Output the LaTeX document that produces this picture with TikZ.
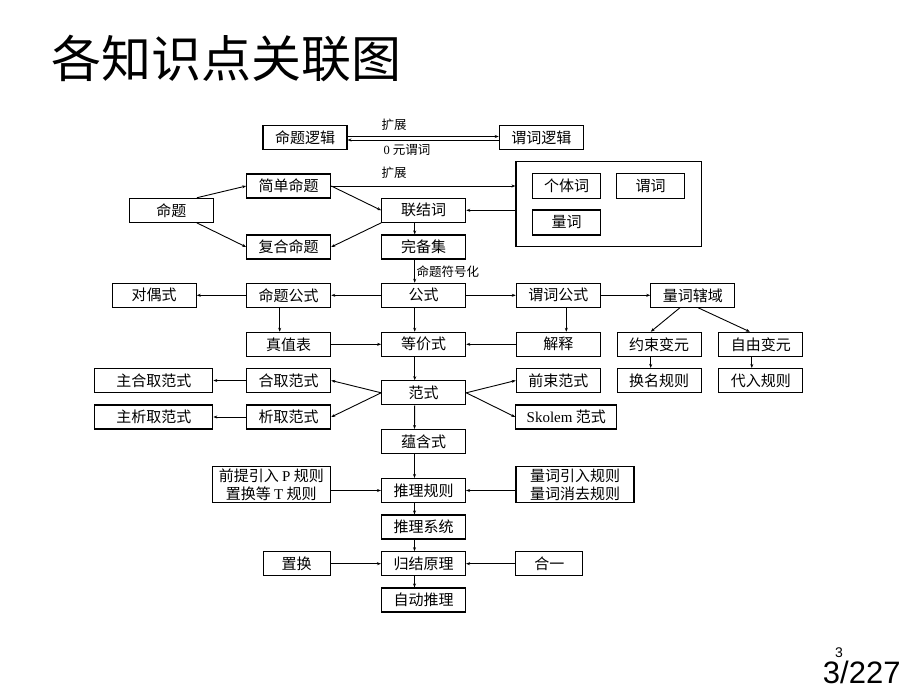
\documentclass[tikz,border=0pt]{standalone}
\usepackage{fontspec}
\setmainfont{Liberation Serif}
\newfontfamily\cjk{Noto Sans CJK SC}
\newfontfamily\pagefont{Liberation Sans}
\usetikzlibrary{arrows.meta}

\tikzset{
  box/.style={draw, line width=1.1pt, minimum width=84pt, minimum height=24pt,
    inner sep=0pt, font=\cjk\fontsize{15}{18}\selectfont},
  wide/.style={box, minimum width=118pt},
  arr/.style={line width=0.9pt, -{Stealth[length=4pt,width=3pt]}},
  lbl/.style={inner sep=0pt, font=\cjk\fontsize{12.5}{14}\selectfont},
}

\begin{document}
\begin{tikzpicture}[x=1pt,y=-1pt]
    \fill[white] (0,0) rectangle (920,690);
    \useasboundingbox (0,0) rectangle (920,690);
    \node[anchor=base west, inner sep=0pt, font=\cjk\fontsize{50}{60}\selectfont] (title) at (51.5,78) {各知识点关联图};

    \node[box] (mtlj) at (305,137.5) {命题逻辑};
    \node[box] (wclj) at (541.3,137.5) {谓词逻辑};
    \draw[arr] ([yshift=1pt]mtlj.east) -- ([yshift=1pt]wclj.west);
    \draw[arr] ([yshift=-2.5pt]wclj.west) -- ([yshift=-2.5pt]mtlj.east);
    \node[lbl] (kz1) at (394,125) {扩展};
    \node[lbl] (ly) at (407,150) {{\rmfamily 0} 元谓词};

    \node[box] (mt) at (171.3,210.3) {命题};
    \node[box] (jdmt) at (288.7,186) {简单命题};
    \node[box] (fhmt) at (288.7,247) {复合命题};
    \node[box] (ljc) at (423.7,210.3) {联结词};
    \node[box] (wbj) at (423.7,247) {完备集};
    \node[draw, line width=1.1pt, minimum width=185.7pt, minimum height=85pt] (big) at (608.8,204.2) {};
    \node[box, minimum width=68pt, minimum height=25pt] (gtc) at (566.7,185.8) {个体词};
    \node[box, minimum width=68pt, minimum height=25pt] (wc) at (650.7,185.8) {谓词};
    \node[box, minimum width=68pt, minimum height=25pt] (lc) at (566.7,222.5) {量词};
    \node[lbl] (kz2) at (394,173) {扩展};
    \draw[arr] ([xshift=-17pt]mt.north east) -- (jdmt.west);
    \draw[arr] ([xshift=-17pt]mt.south east) -- (fhmt.west);
    \draw[arr] (jdmt.east) -- (ljc.west);
    \draw[arr] (ljc.south west) -- (fhmt.east);
    \draw[arr] (jdmt.east) -- (jdmt.east -| big.west);
    \draw[arr] (ljc.east -| big.west) -- (ljc.east);
    \draw[arr] ([xshift=-9pt]ljc.south) -- ([xshift=-9pt]wbj.north);

    \node[box] (dos) at (154.2,295.3) {对偶式};
    \node[box] (mtgs) at (288.7,295.3) {命题公式};
    \node[box] (gs) at (423.7,295.3) {公式};
    \node[box] (wcgs) at (558.3,295.3) {谓词公式};
    \node[box] (lcxy) at (692.8,295.3) {量词辖域};
    \draw[arr] ([xshift=-9pt]wbj.south) -- ([xshift=-9pt]gs.north);
    \node[lbl, anchor=west] (fhh) at (416.5,272) {命题符号化};
    \draw[arr] (gs.west) -- (mtgs.east);
    \draw[arr] (mtgs.west) -- (dos.east);
    \draw[arr] (gs.east) -- (wcgs.west);
    \draw[arr] (wcgs.east) -- (lcxy.west);

    \node[box] (zzb) at (288.7,344.3) {真值表};
    \node[box] (djs) at (423.7,344.3) {等价式};
    \node[box] (js) at (558.3,344.3) {解释};
    \node[box] (ysby) at (659.2,344.3) {约束变元};
    \node[box] (zyby) at (760.8,344.3) {自由变元};
    \draw[arr] ([xshift=-9pt]mtgs.south) -- ([xshift=-9pt]zzb.north);
    \draw[arr] ([xshift=-9pt]gs.south) -- ([xshift=-9pt]djs.north);
    \draw[arr] ([xshift=8pt]wcgs.south) -- ([xshift=8pt]js.north);
    \draw[arr] ([xshift=-13pt]lcxy.south) -- ([xshift=-8.5pt]ysby.north);
    \draw[arr] ([xshift=5.5pt]lcxy.south) -- ([xshift=-11pt]zyby.north);
    \draw[arr] (zzb.east) -- (djs.west);
    \draw[arr] (js.west) -- (djs.east);

    \node[wide] (zhqfs) at (153.8,380.5) {主合取范式};
    \node[box] (hqfs) at (288.7,380.5) {合取范式};
    \node[box] (fs) at (423.7,392.8) {范式};
    \node[box] (qsfs) at (558.3,380.5) {前束范式};
    \node[box] (hmgz) at (659.2,380.5) {换名规则};
    \node[box] (drgz) at (760.8,380.5) {代入规则};
    \node[wide] (zxqfs) at (153.8,417) {主析取范式};
    \node[box] (xqfs) at (288.7,417) {析取范式};
    \node[box, minimum width=101pt] (skfs) at (566.3,417) {{\rmfamily Skolem} 范式};
    \draw[arr] ([xshift=-8.5pt]ysby.south) -- ([xshift=-8.5pt]hmgz.north);
    \draw[arr] ([xshift=-9pt]zyby.south) -- ([xshift=-9pt]drgz.north);
    \draw[arr] ([xshift=-9pt]djs.south) -- ([xshift=-9pt]fs.north);
    \draw[arr] (fs.west) -- (hqfs.east);
    \draw[arr] (fs.west) -- (xqfs.east);
    \draw[arr] (fs.east) -- (qsfs.west);
    \draw[arr] (fs.east) -- (skfs.west);
    \draw[arr] (hqfs.west) -- (zhqfs.east);
    \draw[arr] (xqfs.west) -- (zxqfs.east);

    \node[box] (yhs) at (423.5,441.5) {蕴含式};
    \node[wide, minimum height=36pt, align=center] (qtgz) at (271.3,484.7) {前提引入 {\rmfamily P} 规则\\置换等 {\rmfamily T} 规则};
    \node[box] (tlgz) at (423.5,490.5) {推理规则};
    \node[wide, minimum height=36pt, align=center] (lcgz) at (575,484.7) {量词引入规则\\量词消去规则};
    \node[box] (tlxt) at (423.5,527) {推理系统};
    \node[box, minimum width=67pt] (zh) at (296.7,563.7) {置换};
    \node[box] (gjyl) at (423.5,563.7) {归结原理};
    \node[box, minimum width=67pt] (hy) at (549.3,563.7) {合一};
    \node[box] (zdtl) at (423.5,600) {自动推理};
    \draw[arr] ([xshift=-9pt]fs.south) -- ([xshift=-9pt]yhs.north);
    \draw[arr] ([xshift=-9pt]yhs.south) -- ([xshift=-9pt]tlgz.north);
    \draw[arr] (tlgz.west -| qtgz.east) -- (tlgz.west);
    \draw[arr] (tlgz.east -| lcgz.west) -- (tlgz.east);
    \draw[arr] ([xshift=-9pt]tlgz.south) -- ([xshift=-9pt]tlxt.north);
    \draw[arr] ([xshift=-9pt]tlxt.south) -- ([xshift=-9pt]gjyl.north);
    \draw[arr] (zh.east) -- (gjyl.west);
    \draw[arr] (hy.west) -- (gjyl.east);
    \draw[arr] ([xshift=-9pt]gjyl.south) -- ([xshift=-9pt]zdtl.north);

    \node[inner sep=0pt, font=\pagefont\fontsize{14}{16}\selectfont] (pg) at (839,653) {3};
    \node[inner sep=0pt, font=\pagefont\fontsize{31}{34}\selectfont] (pgall) at (861.7,672.5) {3/227};
\end{tikzpicture}
\end{document}
